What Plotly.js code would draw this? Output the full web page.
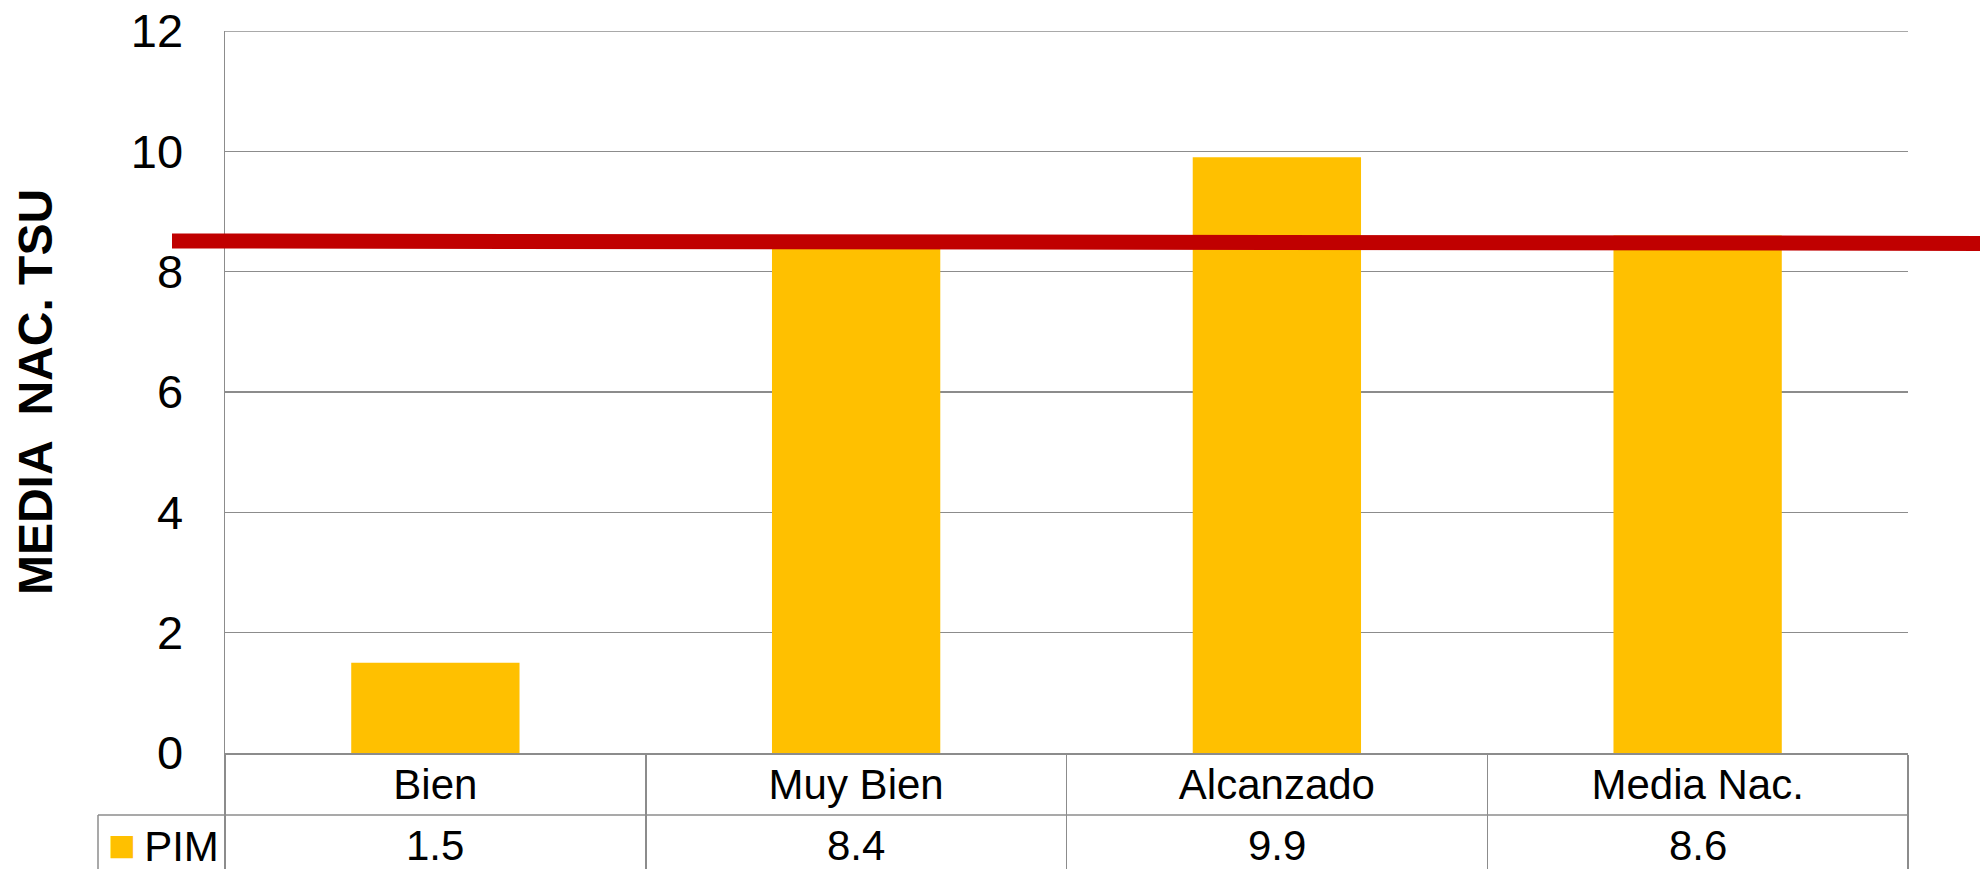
<!DOCTYPE html>
<html><head><meta charset="utf-8">
<script src="https://cdn.plot.ly/plotly-3.0.1.min.js"></script>
<style>html,body{margin:0;padding:0;background:#fff}#chart{width:1980px;height:869px}</style>
</head><body><div id="chart"></div>
<script>
// ---- data ----
const categories = ['Bien', 'Muy Bien', 'Alcanzado', 'Media Nac.'];
const seriesName = 'PIM';
const pimValues = [1.5, 8.4, 9.9, 8.6];
const yTickValues = [0, 2, 4, 6, 8, 10, 12];
const referenceLine = [8.51, 8.47];   // red reference line: value at start, value at end
const yTitle = 'MEDIA  NAC. TSU';

// ---- styles ----
const barColor = '#FFC000';
const lineColor = '#C00000';
const gridColor = '#8C8C8C';
const fontFamily = 'Liberation Sans, Arial, sans-serif';

const W = 1980, H = 869;
const M = {l: 225, r: 72, t: 31, b: 116};
const plotW = W - M.l - M.r, plotH = H - M.t - M.b;
const px = v => (v - M.l) / plotW;          // pixel x -> paper x
const py = v => (H - M.b - v) / plotH;      // pixel y -> paper y

const barTrace = {
  type: 'bar', x: categories, y: pimValues, name: seriesName,
  marker: {color: barColor}, showlegend: false
};

const annotations = pimValues.map((v, i) => ({
  x: categories[i], xref: 'x', y: py(845), yref: 'paper',
  xanchor: 'center', yanchor: 'middle', showarrow: false,
  text: v.toFixed(1), font: {family: fontFamily, size: 42, color: '#000'}
}));
annotations.push({
  x: px(106), xref: 'paper', y: py(845), yref: 'paper',
  xanchor: 'left', yanchor: 'middle', showarrow: false,
  text: '<span style="color:' + barColor + ';font-size:46px">■</span><span style="font-size:30px"> </span>' + seriesName,
  font: {family: fontFamily, size: 42, color: '#000'}
});

const shapes = [
  // top gridline of plot area
  {type: 'line', xref: 'paper', yref: 'y', x0: 0, x1: 1,
   y0: yTickValues[yTickValues.length - 1], y1: yTickValues[yTickValues.length - 1],
   line: {color: gridColor, width: 1.5}},
  // data-table row divider
  {type: 'line', xref: 'paper', yref: 'paper', x0: px(98), x1: 1, y0: py(815), y1: py(815),
   line: {color: gridColor, width: 1.5}},
  // data-table left edge (legend key cell)
  {type: 'line', xref: 'paper', yref: 'paper', x0: px(98), x1: px(98), y0: py(815), y1: py(880),
   line: {color: gridColor, width: 1.5}},
  // red reference line
  {type: 'line', xref: 'paper', yref: 'y', x0: px(172), x1: px(1990),
   y0: referenceLine[0], y1: referenceLine[1], layer: 'above',
   line: {color: lineColor, width: 15}}
];

const layout = {
  width: W, height: H, margin: M,
  paper_bgcolor: '#fff', plot_bgcolor: '#fff',
  font: {family: fontFamily, color: '#000'},
  bargap: 0.6,
  showlegend: false,
  xaxis: {
    type: 'category', showgrid: false,
    showline: true, linecolor: gridColor, linewidth: 1.5,
    ticks: 'outside', tickson: 'boundaries', ticklen: 120, tickwidth: 1.5, tickcolor: gridColor,
    ticklabelstandoff: -6,
    tickfont: {family: fontFamily, size: 42, color: '#000'}
  },
  yaxis: {
    range: [0, 12], tickvals: yTickValues, ticktext: yTickValues.map(String),
    showgrid: true, gridcolor: gridColor, gridwidth: 1.5,
    showline: true, linecolor: gridColor, linewidth: 1.5,
    zeroline: false, ticks: '', ticklabelstandoff: 31,
    tickfont: {family: fontFamily, size: 47, color: '#000'},
    title: {text: yTitle, standoff: 63, font: {family: fontFamily, size: 48, color: '#000', weight: 'bold'}}
  },
  annotations: annotations,
  shapes: shapes
};

Plotly.newPlot('chart', [barTrace], layout, {displayModeBar: false, staticPlot: true});
</script>
</body></html>
